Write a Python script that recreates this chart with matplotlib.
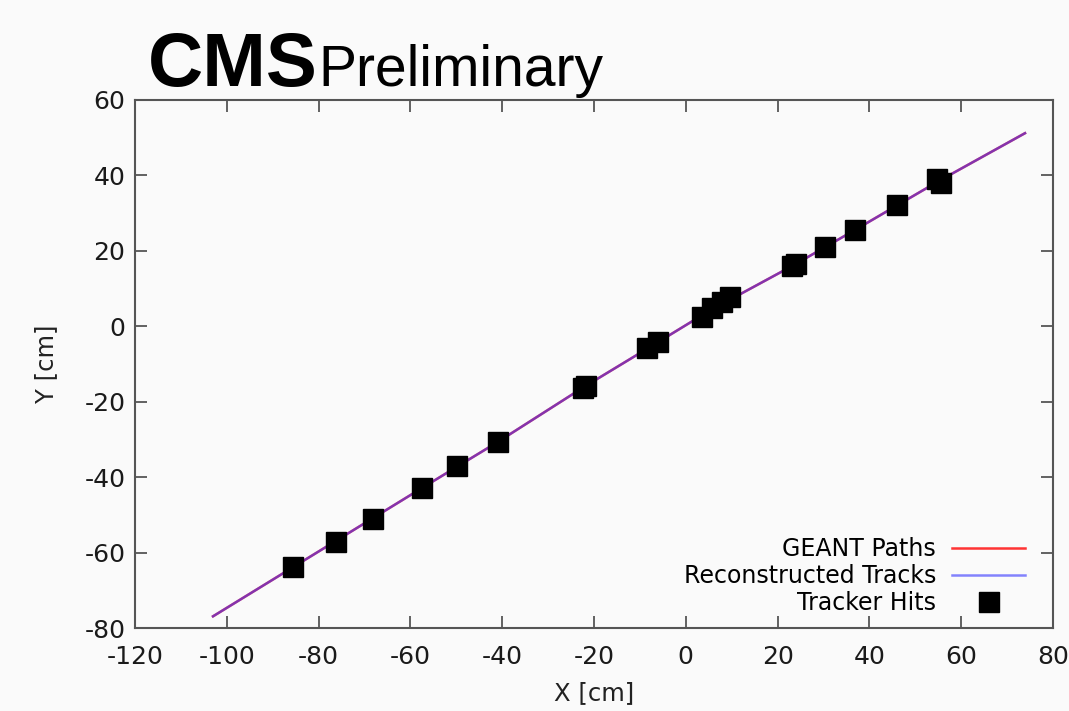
import matplotlib
matplotlib.use("Agg")
import matplotlib.pyplot as plt

plt.rcParams["axes.unicode_minus"] = False

# track vertices (GEANT and reco overlap)
track_x = [-103.0, -85.6, -57.5, -41.0, -22.2, -7.0, 5.0, 23.5, 36.8, 55.1, 73.9]
track_y = [-76.9, -63.9, -42.9, -30.7, -16.1, -4.9, 4.0, 16.2, 25.5, 38.5, 51.2]

# tracker hits
hit_x = [-85.6, -76.3, -68.2, -57.5, -49.9, -41.0, -22.5, -21.8, -8.5, -6.1,
         3.5, 5.7, 7.8, 9.6, 23.2, 23.9, 30.3, 36.8, 46.0, 54.8, 55.6]
hit_y = [-63.9, -57.2, -51.1, -42.9, -37.1, -30.7, -16.3, -15.8, -5.8, -4.2,
         2.5, 4.9, 6.4, 7.8, 16.0, 16.5, 21.0, 25.5, 32.1, 39.0, 38.0]

x_ticks = [-120, -100, -80, -60, -40, -20, 0, 20, 40, 60, 80]
y_ticks = [-80, -60, -40, -20, 0, 20, 40, 60]

bg = "#fafafa"
edge = "#555555"

fig = plt.figure(figsize=(10.69, 7.11), dpi=100, facecolor=bg)
ax = fig.add_axes([135 / 1069, 1 - 628 / 711, 918 / 1069, 528 / 711])
ax.set_facecolor(bg)

ax.plot(track_x, track_y, color="#ff3333", lw=1.8, label="GEANT Paths", zorder=2)
ax.plot(track_x, track_y, color="#3333ff", lw=1.8, alpha=0.6,
        label="Reconstructed Tracks", zorder=3)
ax.plot(hit_x, hit_y, ls="none", marker="s", ms=14, color="black",
        label="Tracker Hits", zorder=4)

ax.set_xlim(-120, 80)
ax.set_ylim(-80, 60)
ax.set_xticks(x_ticks)
ax.set_yticks(y_ticks)
ax.tick_params(direction="in", length=8.5, width=1.3, color=edge,
               top=True, right=True, labelsize=18, labelcolor="#1a1a1a")
ax.tick_params(axis="x", pad=12)
ax.tick_params(axis="y", pad=7)
for s in ax.spines.values():
    s.set_color(edge)
    s.set_linewidth(1.5)

ax.set_xlabel("X [cm]", fontsize=17.5, color="#222222", labelpad=9)
ax.set_ylabel("Y [cm]", fontsize=17.5, color="#222222", labelpad=19)

ax.legend(loc="lower right", bbox_to_anchor=(0.9826, 0.0), markerfirst=False,
          frameon=False, fontsize=17, handlelength=3.05, handletextpad=0.7,
          labelspacing=0.14, borderaxespad=0.13)

fig.text(148 / 1069, 1 - 86 / 711, "CMS", fontsize=55, fontweight="bold",
         family="Liberation Sans", va="baseline", ha="left")
fig.text(318 / 1069, 1 - 86 / 711, "Preliminary", fontsize=41,
         family="Liberation Sans", va="baseline", ha="left")

fig.savefig("out.png", dpi=100, facecolor=bg)
